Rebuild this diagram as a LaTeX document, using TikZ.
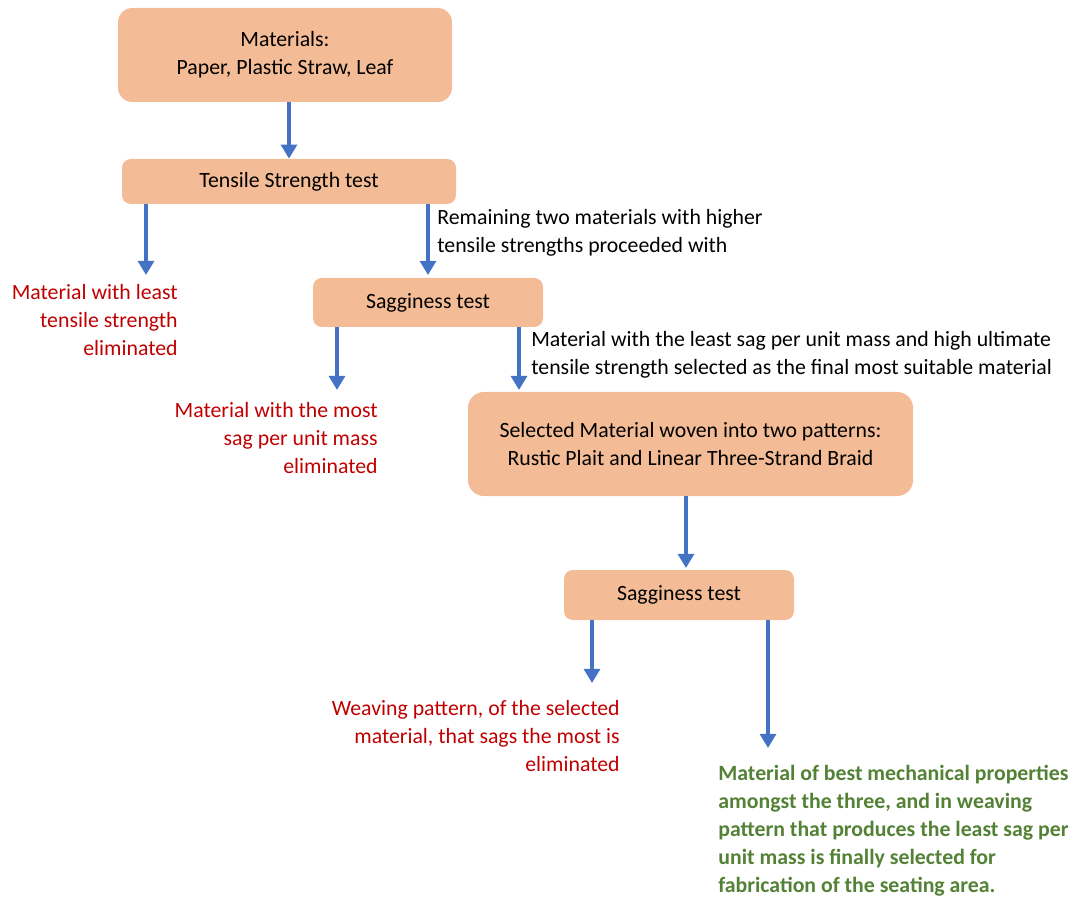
\documentclass[tikz,border=0pt]{standalone}
\usepackage{fontspec}
\setmainfont{Carlito}
\usepackage{tikz}
\usetikzlibrary{calc,positioning,arrows.meta}
\definecolor{boxfill}{HTML}{F4BC96}
\definecolor{arrblue}{HTML}{4472C4}
\definecolor{outred}{HTML}{C00000}
\definecolor{outgreen}{HTML}{538135}
\tikzset{
  txt/.style={font=\fontsize{12.4pt}{15.9pt}\selectfont, inner sep=0pt},
  stage/.style={txt, fill=boxfill, rounded corners=5pt, align=center},
  arr/.style={-{Triangle[length=8pt,width=9pt]}, line width=2.2pt, arrblue},
  drop/.style={txt, outred, align=right, anchor=east},
  note/.style={txt, align=left, anchor=west}
}
\begin{document}
\begin{tikzpicture}
                \useasboundingbox (0,0) rectangle (21.56,-18.02);
                \node[stage, rounded corners=8pt, minimum width=6.68cm, minimum height=1.88cm] (mat) at (5.70,-1.10) {Materials:\\Paper, Plastic Straw, Leaf};
                \node[stage, minimum width=6.68cm, minimum height=0.90cm] (tensile) at (5.78,-3.63) {Tensile Strength test};
                \node[stage, minimum width=4.60cm, minimum height=0.98cm] (sag1) at (8.56,-6.05) {Sagginess test};
                \node[stage, rounded corners=9pt, minimum width=8.90cm, minimum height=2.08cm] (sel) at (13.81,-8.88) {Selected Material woven into two patterns:\\Rustic Plait and Linear Three-Strand Braid};
                \node[stage, minimum width=4.60cm, minimum height=1.00cm] (sag2) at (13.58,-11.90) {Sagginess test};
                \coordinate (e1) at (2.92,-5.50);
                \coordinate (e2) at (6.74,-7.80);
                \coordinate (e3) at (10.38,-7.80);
                \coordinate (e4) at (13.72,-11.36);
                \coordinate (e5) at (11.84,-13.66);
                \coordinate (e6) at (15.36,-14.96);
                \draw [arr] (mat.south -| tensile.north) -- (tensile.north);
                \draw [arr] (tensile.south -| e1) -- (e1);
                \draw [arr] (tensile.south -| sag1.north) -- ([yshift=1.5pt]sag1.north);
                \draw [arr] (sag1.south -| e2) -- (e2);
                \draw [arr] (sag1.south -| e3) -- (e3);
                \draw [arr] (sel.south -| e4) -- (e4);
                \draw [arr] (sag2.south -| e5) -- (e5);
                \draw [arr] (sag2.south -| e6) -- (e6);
                \node[drop] (out1) at (3.56,-6.40) {Material with least\\tensile strength\\eliminated};
                \node[note] (why1) at (8.74,-4.66) {Remaining two materials with higher\\tensile strengths proceeded with};
                \node[drop] (out2) at (7.56,-8.76) {Material with the most\\sag per unit mass\\eliminated};
                \node[note] (why2) at (10.62,-7.09) {Material with the least sag per unit mass and high ultimate\\tensile strength selected as the final most suitable material};
                \node[drop] (out3) at (12.40,-14.72) {Weaving pattern, of the selected\\material, that sags the most is\\eliminated};
                \node[note, outgreen, font=\fontsize{12.4pt}{15.9pt}\selectfont\bfseries] (final) at (14.36,-16.61) {Material of best mechanical properties\\amongst the three, and in weaving\\pattern that produces the least sag per\\unit mass is finally selected for\\fabrication of the seating area.};
            \end{tikzpicture}
\end{document}
